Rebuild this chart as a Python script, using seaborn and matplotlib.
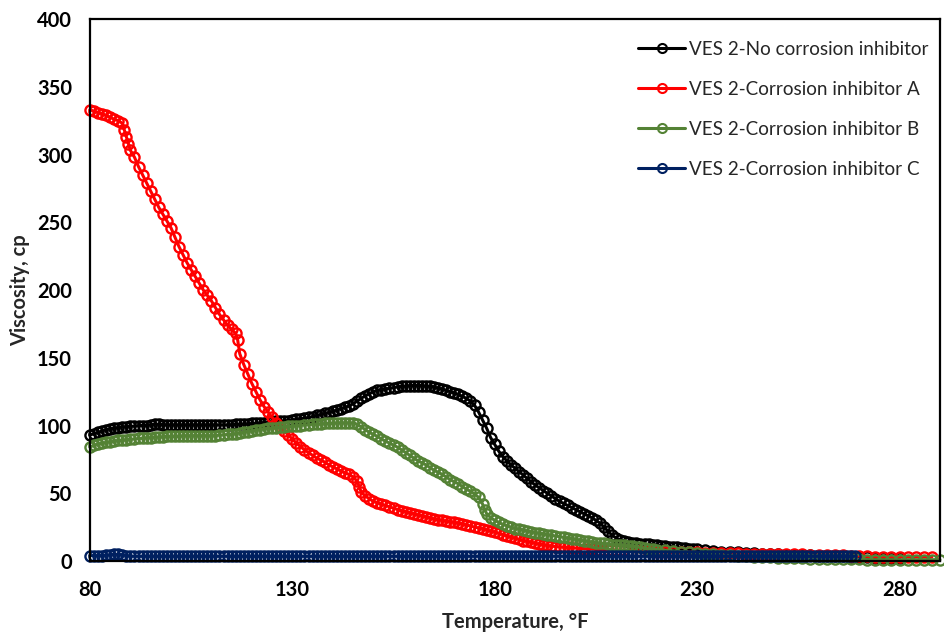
import matplotlib
matplotlib.use("Agg")
import matplotlib.pyplot as plt
import seaborn as sns
import pandas as pd

# ---- data: viscosity (cp) versus temperature (°F) ----
# VES 2, no corrosion inhibitor
temp_none = [
    80, 81, 82, 83, 84, 85, 86, 87, 88, 89, 90, 91, 92, 93, 94, 95, 96, 97, 98, 99,
    100, 101, 102, 103, 104, 105, 106, 107, 108, 109, 110, 111, 112, 113, 114, 115, 116, 117, 118, 119,
    120, 121, 122, 123, 124, 125, 126, 127, 128, 129, 130, 131, 132, 133, 134, 135, 136, 137, 138, 139,
    140, 141, 142, 143, 144, 145, 146, 147, 148, 149, 150, 151, 152, 153, 154, 155, 156, 157, 158, 159,
    160, 161, 162, 163, 164, 165, 166, 167, 168, 169, 170, 171, 172, 173, 174, 175, 176, 177, 178, 179,
    180, 181, 182, 183, 184, 185, 186, 187, 188, 189, 190, 191, 192, 193, 194, 195, 196, 197, 198, 199,
    200, 201, 202, 203, 204, 205, 206, 207, 208, 209, 210, 211, 212, 213, 214, 215, 216, 217, 218, 219,
    220, 221, 222, 223, 224, 225, 226, 227, 228, 229, 230,
    232, 234, 236, 238, 240, 242, 244, 246, 248, 250, 252, 254, 256, 258, 260, 262, 264, 266, 268, 270,
    272, 274, 276, 278, 280]
visc_none = [
    93, 94, 95, 96, 97, 97.5, 98, 98.5, 99, 99, 99.5, 99.5, 100, 100, 100, 100.5, 101, 101, 100.5, 100.5,
    100.5, 100.5, 100.5, 100.5, 100.5, 100.5, 100.5, 100.5, 100.5, 100.5,
    100.5, 100.5, 100.5, 100.5, 100.5, 100.5, 101, 101, 101, 101,
    101.5, 101.5, 102, 102, 102.5, 102.5, 103, 103, 103.5, 103.5,
    104, 104.5, 105, 105.5, 106, 106.5, 107.5, 108, 109, 109.5,
    110.5, 111.5, 112.5, 113.5, 114.5, 116, 118, 120, 122, 123.5,
    125, 126, 126.5, 127, 127.5, 128, 128.5, 129, 129, 129.5,
    129.5, 129.5, 129.5, 129, 129, 128.5, 127.5, 127, 126, 125,
    124, 123, 121.5, 120, 118, 115, 110, 104, 98, 91,
    86, 81, 77, 74, 71, 68.5, 66, 63.5, 61, 58.5,
    56, 54, 52, 50, 48, 46, 44, 42.5, 41, 39.5,
    38, 36.5, 35, 33.5, 32, 30, 28, 25, 22, 19,
    17, 15.5, 14.5, 14, 13.5, 13.2, 12.8, 12.5, 12.2, 11.9,
    11.6, 11.3, 11, 10.7, 10.4, 10.1, 9.8, 9.5, 9.2, 8.9, 8.6,
    8, 7.5, 7, 6.6, 6.3, 6, 5.7, 5.5, 5.2, 5, 4.8, 4.6, 4.4, 4.2, 4, 3.8, 3.6, 3.4, 3.2, 3,
    2.8, 2.6, 2.4, 2.2, 2]

# VES 2, corrosion inhibitor A
temp_a = [
    80, 81, 82, 83, 84, 85, 86, 87, 88, 88.5, 89, 89.5, 90,
    91, 92, 93, 94, 95, 96, 97, 98, 99, 100, 101, 102, 103, 104, 105, 106, 107, 108, 109, 110,
    111, 112, 113, 114, 115, 116, 116.5,
    117, 118, 119, 120, 121, 122, 123, 124, 125, 126, 127, 128, 129, 130, 131, 132, 133, 134, 135, 136,
    137, 138, 139, 140, 141, 142, 143, 144, 145, 146, 146.5,
    147, 148, 149, 150, 151, 152, 153, 154, 155, 156, 157, 158, 159, 160, 161, 162, 163, 164, 165, 166,
    167, 168, 169, 170, 171, 172, 173, 174, 175, 176, 177, 178, 179, 180, 181, 182, 183, 184, 185, 186,
    187, 188, 189, 190, 191, 192, 193, 194, 195, 196, 197, 198, 199, 200,
    202, 204, 206, 208, 210, 212, 214, 216, 218, 220, 222, 224, 226, 228, 230, 232, 234, 236, 238, 240,
    242, 244, 246, 248, 250, 252, 254, 256, 258, 260, 262, 264, 266, 268, 270, 272, 274, 276, 278, 280,
    282, 284, 286, 288]
visc_a = [
    333, 332, 331, 330, 329, 327.5, 326, 325, 323, 318, 313, 308, 303,
    298, 291, 285, 279, 273, 267, 261, 256, 251, 246, 239, 232, 226, 220, 215, 210, 205, 200, 196, 192,
    187, 182, 178, 174, 171, 168, 163,
    153, 145, 138, 131, 125, 119, 114, 110, 106, 102, 99, 96, 93, 90, 87, 84.5, 82, 80, 78, 76,
    74.5, 73, 71, 69.5, 68, 66.5, 65, 64, 62, 59, 55,
    51, 48, 46, 44, 43, 42, 41, 40, 39, 38, 37, 36.5, 35.5, 35, 34, 33.5, 32.5, 32, 31, 30.5,
    30, 29.5, 29, 28.5, 28, 27.5, 26.5, 26, 25, 24.5, 24, 23, 22, 21.5, 20.5, 19.5, 18.5, 17.5, 17, 16,
    15, 14.5, 14, 13, 12.5, 12, 11.5, 11, 10.7, 10.5, 10.2, 10, 9.7, 9.5,
    9.2, 8.8, 8.5, 8.2, 8, 7.8, 7.6, 7.4, 7.2, 7, 6.9, 6.8, 6.6, 6.5, 6.3, 6.2, 6, 5.9, 5.8, 5.6,
    5.5, 5.4, 5.3, 5.2, 5.1, 5, 5, 4.9, 4.8, 4.7, 4.6, 4.4, 4.2, 4, 3.7, 3.4, 3.1, 3, 3, 3,
    3, 3, 3, 3]

# VES 2, corrosion inhibitor B
temp_b = [
    80, 81, 82, 83, 84, 85, 86, 87, 88, 89, 90, 91, 92, 93, 94, 95, 96, 97, 98, 99,
    100, 101, 102, 103, 104, 105, 106, 107, 108, 109, 110, 111, 112, 113, 114, 115, 116, 117, 118, 119,
    120, 121, 122, 123, 124, 125, 126, 127, 128, 129, 130, 131, 132, 133, 134, 135, 136, 137, 138, 139,
    140, 141, 142, 143, 144, 145, 146, 147, 148, 149, 150, 151, 152, 153, 154, 155, 156, 157, 158, 159,
    160, 161, 162, 163, 164, 165, 166, 167, 168, 169, 170, 171, 172, 173, 174, 175, 176, 177, 177.5,
    178, 179, 180, 181, 182, 183, 184, 185, 186, 187, 188, 189, 190, 191, 192, 193, 194, 195, 196, 197,
    198, 199, 200, 201, 202, 203, 204, 205, 206, 207, 208, 209, 210, 211, 212, 213, 214, 215, 216, 217,
    218, 219, 220,
    222, 224, 226, 228, 230, 232, 234, 236, 238, 240, 242, 244, 246, 248, 250, 252, 254, 256, 258, 260,
    262, 264, 266, 268, 270, 272, 274, 276, 278, 280, 282, 284, 286, 288, 290]
visc_b = [
    84, 85.5, 86.5, 87, 87.5, 88, 88.5, 89, 89, 89.5, 90, 90, 90.5, 90.5, 91, 91, 91.5, 91.5, 91.5, 92,
    92, 92, 92, 92.5, 92.5, 92.5, 92.5, 92.5, 92.5, 92.5, 92.5, 92.5, 93, 93, 93.5, 93.5, 94, 94.5, 95, 95.5,
    96, 96.5, 97, 97.5, 98, 98, 98.5, 99, 99, 99.5, 99.5, 100, 100, 100.5, 100.5, 101, 101, 101, 101.5, 101.5,
    101.5, 102, 102, 102, 102, 102, 101, 99, 97, 95, 93.5, 92, 90, 88.5, 87, 85.5, 84, 82, 80, 78,
    76, 74, 72.5, 71, 69, 67, 65.5, 64, 62, 60, 58.5, 57, 55, 53, 51.5, 49.5, 47, 42, 38,
    35, 32, 30, 28.5, 27, 26, 25, 24, 23.5, 23, 22, 21.5, 21, 20.5, 20, 19.5, 19, 18.5, 18, 17.5,
    17, 16.5, 16, 15.5, 15, 14.5, 14, 13.5, 13, 13, 12.5, 12, 12, 12, 11.5, 11, 11, 10.5, 10, 9.5,
    9, 9, 8.5,
    8, 7.5, 7, 6.5, 6, 5.5, 5, 4.5, 4.2, 4, 3.6, 3.3, 3, 2.8, 2.5, 2.3, 2.1, 2, 1.8, 1.6,
    1.5, 1.5, 1.4, 1.3, 1.2, 1, 1, 1, 1, 1, 1, 1, 1, 1, 1]

# VES 2, corrosion inhibitor C
temp_c = [
    80, 81, 82, 83, 84, 85, 86, 87, 88, 89, 90, 91, 92, 93, 94, 95, 96, 97, 98, 99,
    100, 101, 102, 103, 104, 105, 106, 107, 108, 109, 110, 111, 112, 113, 114, 115, 116, 117, 118, 119,
    120, 121, 122, 123, 124, 125, 126, 127, 128, 129, 130, 131, 132, 133, 134, 135, 136, 137, 138, 139,
    140, 141, 142, 143, 144, 145, 146, 147, 148, 149, 150, 151, 152, 153, 154, 155, 156, 157, 158, 159,
    160, 161, 162, 163, 164, 165, 166, 167, 168, 169, 170, 171, 172, 173, 174, 175, 176, 177, 178, 179,
    180, 181, 182, 183, 184, 185, 186, 187, 188, 189, 190, 191, 192, 193, 194, 195, 196, 197, 198, 199,
    200, 201, 202, 203, 204, 205, 206, 207, 208, 209, 210, 211, 212, 213, 214, 215, 216, 217, 218, 219,
    220, 221, 222, 223, 224, 225, 226, 227, 228, 229, 230, 231, 232, 233, 234, 235, 236, 237, 238, 239,
    240, 241, 242, 243, 244, 245, 246, 247, 248, 249, 250, 251, 252, 253, 254, 255, 256, 257, 258, 259,
    260, 261, 262, 263, 264, 265, 266, 267, 268, 269]
visc_c = [
    4, 4, 4, 4, 4.2, 4.5, 5, 5, 4.5, 4, 3.5, 3.5, 3.5, 3.5, 3.5, 3.5, 3.5, 3.5, 3.5, 3.5,
    3.5, 3.5, 3.5, 3.5, 3.5, 3.5, 3.5, 3.5, 3.5, 3.5, 3.5, 3.5, 3.5, 3.5, 3.5, 3.5, 3.5, 3.5, 3.5, 3.5,
    3.5, 3.5, 3.5, 3.5, 3.5, 3.5, 3.5, 3.5, 3.5, 3.5, 3.5, 3.5, 3.5, 3.5, 3.5, 3.5, 3.5, 3.5, 3.5, 3.5,
    3.5, 3.5, 3.5, 3.5, 3.5, 3.5, 3.5, 3.5, 3.5, 3.5, 3.5, 3.5, 3.5, 3.5, 3.5, 3.5, 3.5, 3.5, 3.5, 3.5,
    3.5, 3.5, 3.5, 3.5, 3.5, 3.5, 3.5, 3.5, 3.5, 3.5, 3.5, 3.5, 3.5, 3.5, 3.5, 3.5, 3.5, 3.5, 3.5, 3.5,
    3.5, 3.5, 3.5, 3.5, 3.5, 3.5, 3.5, 3.5, 3.5, 3.5, 3.5, 3.5, 3.5, 3.5, 3.5, 3.5, 3.5, 3.5, 3.5, 3.5,
    3.5, 3.5, 3.5, 3.5, 3.5, 3.5, 3.5, 3.5, 3.5, 3.5, 3.5, 3.5, 3.5, 3.5, 3.5, 3.5, 3.5, 3.5, 3.5, 3.5,
    3.5, 3.5, 3.5, 3.5, 3.5, 3.5, 3.5, 3.5, 3.5, 3.5, 3.5, 3.5, 3.5, 3.5, 3.5, 3.5, 3.5, 3.5, 3.5, 3.5,
    3.5, 3.5, 3.5, 3.5, 3.5, 3.5, 3.5, 3.5, 3.5, 3.5, 3.5, 3.5, 3.5, 3.5, 3.5, 3.5, 3.5, 3.5, 3.5, 3.5,
    3.5, 3.5, 3.5, 3.5, 3.5, 3.5, 3.5, 3.5, 3.5, 3.5]

series_labels = ["VES 2-No corrosion inhibitor", "VES 2-Corrosion inhibitor A",
                 "VES 2-Corrosion inhibitor B", "VES 2-Corrosion inhibitor C"]
series_colors = ["#000000", "#FF0000", "#548235", "#002060"]
x_ticks = [80, 130, 180, 230, 280]
y_ticks = [0, 50, 100, 150, 200, 250, 300, 350, 400]

sns.set_theme(style="white")
plt.rcParams["font.family"] = ["Lato", "DejaVu Sans"]

fig = plt.figure(figsize=(9.45, 6.32), dpi=100)
ax = fig.add_axes([0.0952, 0.1123, 0.8995, 0.8576])

series = [(temp_none, visc_none), (temp_a, visc_a), (temp_b, visc_b), (temp_c, visc_c)]
for (t, v), lab, col in zip(series, series_labels, series_colors):
    df = pd.DataFrame({"Temperature": t, "Viscosity": v})
    sns.lineplot(data=df, x="Temperature", y="Viscosity", ax=ax, estimator=None, sort=False,
                 color=col, linewidth=2.2, marker="o", markersize=7.3,
                 markerfacecolor="none", markeredgecolor=col, markeredgewidth=1.7,
                 label=lab, clip_on=False)

ax.set_xlim(80, 290)
ax.set_ylim(0, 400)
ax.set_xticks(x_ticks)
ax.set_yticks(y_ticks)
ax.tick_params(axis="both", length=0, labelsize=14.5, colors="black")
ax.tick_params(axis="x", pad=14)
ax.tick_params(axis="y", pad=13)
for lbl in ax.get_xticklabels() + ax.get_yticklabels():
    lbl.set_fontweight("bold")

ax.set_xlabel("Temperature, °F", fontsize=14.5, fontweight="bold", labelpad=8)
ax.set_ylabel("Viscosity, cp", fontsize=14.5, fontweight="bold", labelpad=5)

for side in ["left", "right", "top", "bottom"]:
    ax.spines[side].set_visible(True)
    ax.spines[side].set_color("black")
    ax.spines[side].set_linewidth(1.6)

leg = ax.legend(loc="upper left", bbox_to_anchor=(0.645, 0.96), frameon=False, fontsize=13.6,
                borderpad=0, borderaxespad=0, handlelength=2.5, handletextpad=0.2,
                labelspacing=1.22)
for line in leg.get_lines():
    line.set_markersize(6.5)
    line.set_markeredgewidth(1.5)

fig.savefig("out.png", dpi=100)
